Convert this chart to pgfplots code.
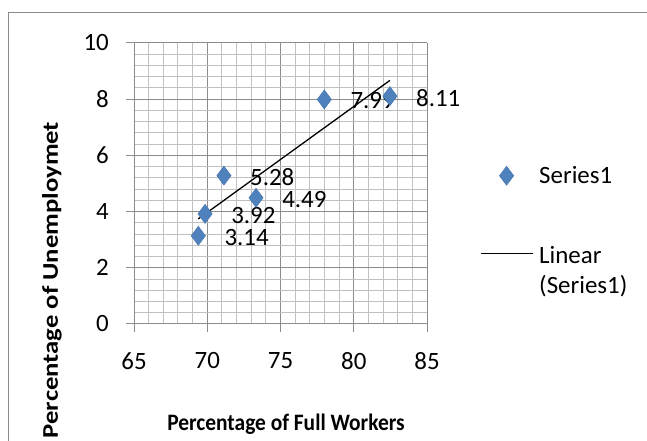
\documentclass[border=0pt]{standalone}
\usepackage{pgfplots}
\pgfplotsset{compat=1.18}
\usepackage{fontspec}
\setmainfont{Carlito}
\definecolor{serblue}{HTML}{4F81BD}
\definecolor{seredge}{HTML}{4677B0}
\definecolor{gridmajor}{HTML}{8C8C8C}
\definecolor{gridminor}{HTML}{C0C0C0}
\definecolor{framegray}{HTML}{8A8A8A}
\newcommand{\lblfont}{\fontsize{25}{30}\selectfont}
\newcommand{\ttlfont}{\fontsize{21.5}{26}\selectfont\bfseries}
\newcommand{\yttlfont}{\fontsize{22.5}{27}\selectfont\bfseries}
\pgfplotsset{
  diamondlegend/.style={legend image code/.code={\path[draw=none] (0bp,0bp) -- (52bp,0bp);
    \draw[##1] plot coordinates {(26bp,0bp)};}},
  linelegend/.style={legend image code/.code={\draw[##1] (0bp,0bp) -- (52bp,0bp);}},
}
\begin{document}
\begin{tikzpicture}
\path[use as bounding box] (0bp,0bp) rectangle (647bp,441bp);
\draw[framegray, line width=1.8bp] (8.5bp,0bp) -- (8.5bp,428.5bp) -- (647bp,428.5bp);
\begin{axis}[
  at={(134bp,117bp)}, anchor=south west,
  scale only axis, width=293bp, height=281bp,
  xmin=65, xmax=85, ymin=0, ymax=10,
  xtick={65,70,75,80,85}, ytick={0,2,4,6,8,10},
  minor x tick num=4, minor y tick num=4,
  grid=both,
  major grid style={draw=gridmajor, line width=1bp},
  minor grid style={draw=gridminor, line width=1bp},
  axis x line*=bottom, axis y line*=left,
  axis line style={draw=gridmajor, line width=1bp, -},
  tick align=outside, major tick length=8bp, minor tick length=0pt,
  tick style={draw=gridmajor, line width=1bp},
  /pgf/number format/assume math mode=true,
  ticklabel style={font=\lblfont, inner sep=0pt},
  xticklabel style={anchor=north, yshift=-20bp},
  yticklabel style={anchor=east, xshift=-17bp},
  clip=false,
  legend style={at={(1.18,0.562)}, anchor=north west, draw=none, fill=none,
    font=\lblfont, inner sep=0pt, nodes={inner sep=0pt}, row sep=57bp, column sep=6bp},
  legend cell align=left,
]
\addplot[only marks, mark=diamond*, mark size=9.5bp,
  mark options={fill=serblue, draw=seredge, line width=0.5bp},
  point meta=explicit symbolic,
  nodes near coords,
  nodes near coords style={anchor=west, inner sep=0pt, xshift=26bp, yshift=-1.5bp, font=\lblfont, text=black},
  diamondlegend]
coordinates {
(69.39,3.14) [3.14]
(69.85,3.92) [3.92]
(71.14,5.28) [5.28]
(73.33,4.49) [4.49]
(77.99,7.99) [7.99]
(82.47,8.11) [8.11]
};
\addlegendentry{Series1}
\addplot[black, line width=1.3bp, no marks, linelegend]
coordinates {(69.39,3.74) (82.47,8.67)};
\addlegendentry{\begin{tabular}[t]{@{}l@{}}Linear\\(Series1)\end{tabular}}
\end{axis}
\node[font=\ttlfont, anchor=center, yscale=1.1, transform shape] at (286bp,17bp) {Percentage of Full Workers};
\node[font=\yttlfont, anchor=center, rotate=90, xscale=1.19, transform shape] at (52bp,161bp) {Percentage of Unemploymet};
\end{tikzpicture}
\end{document}
